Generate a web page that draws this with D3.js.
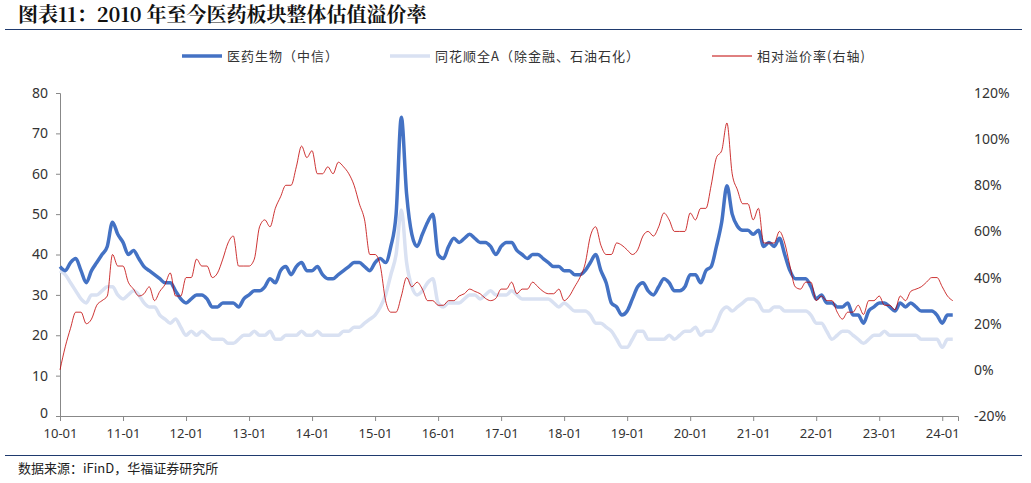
<!DOCTYPE html>
<html><head><meta charset="utf-8">
<script src="https://cdn.jsdelivr.net/npm/d3@7"></script>
<style>body{margin:0;background:#fff;font-family:"Noto Sans CJK SC","Noto Sans",sans-serif}</style>
</head><body><svg id="c" width="1031" height="483"></svg>
<script>
const startYear = 2010;
const xTickLabels = ["10-01","11-01","12-01","13-01","14-01","15-01","16-01","17-01","18-01","19-01","20-01","21-01","22-01","23-01","24-01"];
const yLeftTicks = [0,10,20,30,40,50,60,70,80];
const yRightTicks = [-20,0,20,40,60,80,100,120];
const pharmaPE = [
37,36,38,39,36,33,36,38,40,42,48,45,
43,40,41,39,37,36,35,34,33,33,31,29,
28,29,30,30,29,27,27,28,28,28,27,29,
30,31,31,32,34,33,36,37,35,37,38,36,
36,37,35,34,34,35,36,37,38,38,37,36,
38,39,38,42,50,74,55,45,42,45,48,50,
40,39,42,44,43,44,45,44,43,43,42,40,
42,43,43,41,40,39,40,40,39,38,37,37,
36,36,35,35,36,38,40,36,33,28,27,25,
26,29,32,33,31,30,32,34,33,31,31,32,
35,35,33,36,37,42,48,57,50,47,46,46,
45,46,42,43,42,44,40,36,34,34,34,32,
29,30,28,28,27,27,28,25,25,23,26,27,
28,28,27,26,28,27,28,27,26,26,26,25,
23,25,25];
const marketPE = [
36,35,33,31,29,28,30,30,31,32,32,30,
29,30,31,30,28,27,27,25,24,23,24,22,
20,21,20,21,20,19,19,19,18,18,19,20,
20,21,20,20,21,19,19,20,20,20,21,20,
20,21,20,20,20,20,21,21,22,22,23,24,
25,27,30,35,40,51,38,32,30,31,33,34,
28,27,28,28,28,29,30,30,29,30,31,30,
30,30,31,30,29,29,29,29,29,29,28,27,
28,27,26,26,26,25,23,23,22,21,19,17,
17,19,21,21,19,19,19,19,20,19,20,21,
21,22,20,21,21,23,26,27,26,27,28,29,
29,28,26,26,27,27,26,26,26,26,26,25,
23,23,21,19,20,21,21,20,19,18,19,20,
20,21,20,20,20,20,20,20,19,19,19,19,
17,19,19];
const premium = [
0,10,18,25,25,20,22,28,30,32,50,45,
45,38,35,32,33,36,30,34,37,42,32,32,
40,40,48,45,45,40,42,48,55,58,45,45,
45,48,62,65,62,70,75,80,80,88,97,92,
95,85,85,88,85,90,88,85,80,72,65,50,
50,45,30,25,25,32,40,36,38,35,30,30,
28,28,30,30,32,33,35,34,33,31,30,31,
35,35,38,33,35,35,38,36,34,33,33,35,
30,32,36,40,46,58,62,54,50,50,55,54,
52,50,52,58,60,58,62,68,65,60,60,60,
68,65,70,70,80,92,95,107,85,78,72,72,
65,70,55,55,55,60,55,45,36,35,38,38,
30,32,30,30,25,22,25,25,28,24,30,30,
32,28,28,26,32,30,34,35,36,38,40,40,
36,32,30];

const svg = d3.select("#c");
const L=60,R=958,T=93,B=416;
const x = d3.scaleLinear().domain([0,14.25]).range([L,R]);
const yl = d3.scaleLinear().domain([0,80]).range([B,T]);
const yr = d3.scaleLinear().domain([-20,120]).range([B,T]);
const tx = i => i/12;

svg.append("text").attr("x",18).attr("y",22).attr("font-size",20).attr("font-weight","bold")
 .attr("font-family","'Noto Serif CJK SC','Noto Sans CJK SC',serif").attr("fill","#111")
 .text("图表11：2010 年至今医药板块整体估值溢价率");
svg.append("line").attr("x1",5).attr("x2",1022).attr("y1",29.5).attr("y2",29.5).attr("stroke","#1f3a6e").attr("stroke-width",1);
svg.append("line").attr("x1",5).attr("x2",1022).attr("y1",455.5).attr("y2",455.5).attr("stroke","#1f3a6e").attr("stroke-width",1);
svg.append("text").attr("x",18).attr("y",473).attr("font-size",13).attr("fill","#222").text("数据来源：iFinD，华福证券研究所");

const lg=[["医药生物（中信）","#4472c4",3.5,182],["同花顺全A（除金融、石油石化）","#d9e1f2",3.5,390],["相对溢价率(右轴)","#c00000",1,712]];
lg.forEach(d=>{
 svg.append("line").attr("x1",d[3]).attr("x2",d[3]+40).attr("y1",56).attr("y2",56).attr("stroke",d[1]).attr("stroke-width",d[2]);
 svg.append("text").attr("x",d[3]+45).attr("y",61).attr("font-size",13).attr("fill","#333").attr("letter-spacing",1).text(d[0]);
});

const ax = svg.append("g").attr("transform",`translate(0,${B})`)
 .call(d3.axisBottom(x).tickValues(d3.range(15)).tickFormat((d,i)=>xTickLabels[i]).tickSize(5).tickPadding(8));
ax.select(".domain").attr("stroke","#888");
ax.selectAll("line").attr("stroke","#888");
ax.selectAll("text").attr("font-size",13).attr("fill","#333").attr("font-family","'Noto Sans',sans-serif");
const al = svg.append("g").attr("transform",`translate(${L},0)`).call(d3.axisLeft(yl).tickValues(yLeftTicks).tickSize(4).tickPadding(8));
al.select(".domain").attr("stroke","#888"); al.selectAll("line").attr("stroke","#888");
al.selectAll("text").attr("font-size",14).attr("fill","#333").attr("font-family","'Noto Sans',sans-serif");
al.selectAll(".tick").filter(d=>d===0).select("text").attr("dy","0.1em");
const ar = svg.append("g").attr("transform",`translate(${R},0)`).call(d3.axisRight(yr).tickValues(yRightTicks).tickFormat(d=>d+"%").tickSize(0).tickPadding(16));
ar.select(".domain").remove();
ar.selectAll("text").attr("font-size",14).attr("fill","#333").attr("font-family","'Noto Sans',sans-serif");

const mk = (s)=>d3.line().x((d,i)=>x(tx(i))).y(d=>s(d)).curve(d3.curveMonotoneX);
svg.append("path").datum(marketPE).attr("d",mk(yl)).attr("fill","none").attr("stroke","#d9e1f2").attr("stroke-width",3.5);
svg.append("path").datum(pharmaPE).attr("d",mk(yl)).attr("fill","none").attr("stroke","#4472c4").attr("stroke-width",3.5);
svg.append("path").datum(premium).attr("d",mk(yr)).attr("fill","none").attr("stroke","#c00000").attr("stroke-width",0.8);
</script></body></html>
